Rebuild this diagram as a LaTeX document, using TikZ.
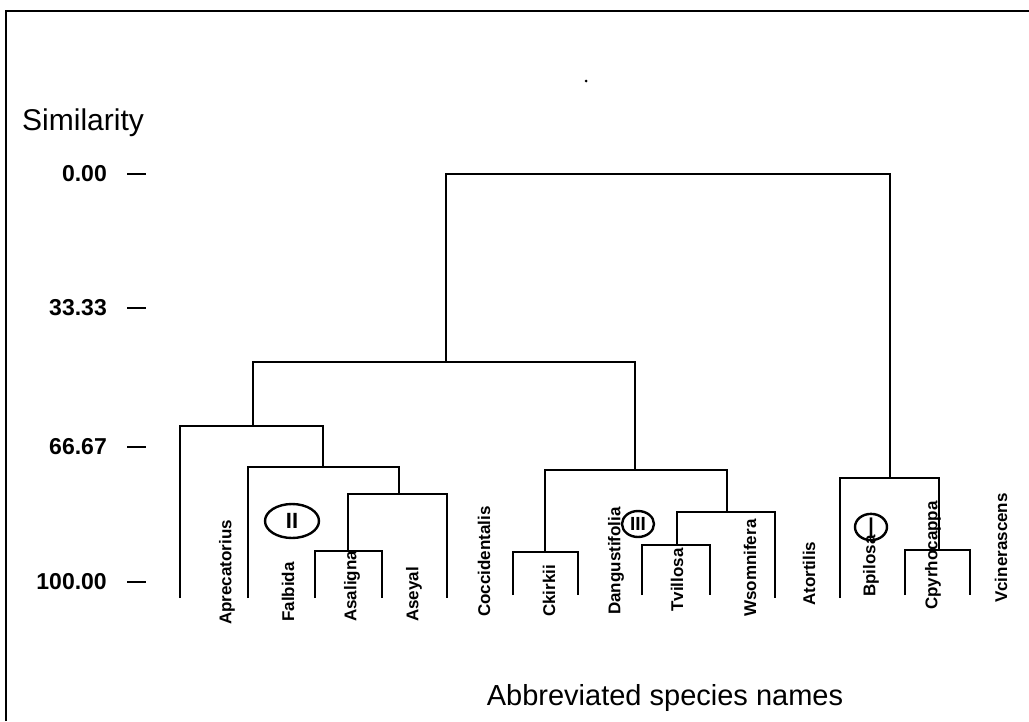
\documentclass[tikz,border=0pt]{standalone}
\usepackage{fontspec}
\setmainfont{Liberation Sans}
\usetikzlibrary{shapes.geometric}
\begin{document}
\begin{tikzpicture}[x=1pt,y=-1pt,
  dline/.style={line width=2.4pt},
  frameline/.style={line width=2pt},
  tickline/.style={line width=1.8pt},
  species/.style={rotate=90, anchor=west, inner sep=0pt, font=\fontsize{17}{17}\selectfont\bfseries},
  ticklabel/.style={anchor=east, inner sep=0pt, font=\fontsize{23}{23}\selectfont\bfseries},
  group/.style={draw, ellipse, line width=2.4pt, inner sep=0pt, font=\fontsize{22}{22}\selectfont\bfseries}
]
\useasboundingbox (0,0) rectangle (1029,721);
% frame (left and top)
\coordinate (fbl) at (6,721);
\coordinate (ftl) at (6,11);
\coordinate (ftr) at (1029,11);
\draw[frameline] (fbl) -- (ftl) -- (ftr);
% speck
\fill (586,81) circle (1.5);

% axis title and ticks
\node[anchor=base west, inner sep=0pt, font=\fontsize{30}{30}\selectfont] (simtitle) at (22,130) {Similarity};
\foreach \v/\yy in {0.00/174, 33.33/308, 66.67/447, 100.00/582}{
  \node[ticklabel] (tl\yy) at (107,\yy) {\v};
  \coordinate (ta\yy) at (127,\yy);
  \coordinate (tb\yy) at (146,\yy);
  \draw[tickline] (ta\yy) -- (tb\yy);
}

% leaves (bottoms of legs)
\coordinate (l1) at (180,598);
\coordinate (l2) at (248,598);
\coordinate (l3) at (315,598);
\coordinate (l4) at (382,598);
\coordinate (l5) at (447,598);
\coordinate (l6) at (513,595);
\coordinate (l7) at (578,595);
\coordinate (l8) at (642,595);
\coordinate (l9) at (710,595);
\coordinate (l10) at (775,598);
\coordinate (l11) at (840,598);
\coordinate (l12) at (905,595);
\coordinate (l13) at (970,595);
% internal nodes (stem x, merge y)
\coordinate (A4) at (348,551);
\coordinate (A3) at (399,494);
\coordinate (A2) at (323,467);
\coordinate (A) at (253,426);
\coordinate (C3) at (677,545);
\coordinate (C2) at (727,512);
\coordinate (C1) at (545,552);
\coordinate (C) at (635,470);
\coordinate (L) at (446,362);
\coordinate (R1) at (939,550);
\coordinate (R) at (890,478);
\coordinate (root) at (668,174);

% brackets
\draw[dline] (l3) |- (A4) -| (l4);
\draw[dline] (A4) |- (A3) -| (l5);
\draw[dline] (l2) |- (A2) -| (A3);
\draw[dline] (l1) |- (A) -| (A2);
\draw[dline] (l8) |- (C3) -| (l9);
\draw[dline] (C3) |- (C2) -| (l10);
\draw[dline] (l6) |- (C1) -| (l7);
\draw[dline] (C1) |- (C) -| (C2);
\draw[dline] (A) |- (L) -| (C);
\draw[dline] (l12) |- (R1) -| (l13);
\draw[dline] (l11) |- (R) -| (R1);
\draw[dline] (L) |- (root) -| (R);

% species labels
\node[species] (sAprecatorius) at (227,625) {Aprecatorius};
\node[species] (sFalbida) at (288,622) {Falbida};
\node[species] (sAsaligna) at (352,622) {Asaligna};
\node[species] (sAseyal) at (414,622) {Aseyal};
\node[species] (sCoccidentalis) at (484,617) {Coccidentalis};
\node[species] (sCkirkii) at (549,617) {Ckirkii};
\node[species] (sDangustifolia) at (616,615) {Dangustifolia};
\node[species] (sTvillosa) at (677,612) {Tvillosa};
\node[species] (sWsomnifera) at (750,617) {Wsomnifera};
\node[species] (sAtortilis) at (809,606) {Atortilis};
\node[species] (sBpilosa) at (871,597) {Bpilosa};
\node[species] (sCpyrhocappa) at (933,610) {Cpyrhocappa};
\node[species] (sVcinerascens) at (1001,603) {Vcinerascens};

% group circles
\node[group, minimum width=54pt, minimum height=34pt] (gII) at (292,521) {II};
\node[group, minimum width=32pt, minimum height=26pt, font=\fontsize{19}{19}\selectfont\bfseries] (gIII) at (638,524) {III};
\node[group, minimum width=32pt, minimum height=23pt, font=\fontsize{27}{27}\selectfont] (gI) at (871,527) {I};

% x axis title
\node[anchor=base, inner sep=0pt, font=\fontsize{29}{29}\selectfont] (xtitle) at (665,705) {Abbreviated species names};
\end{tikzpicture}
\end{document}
